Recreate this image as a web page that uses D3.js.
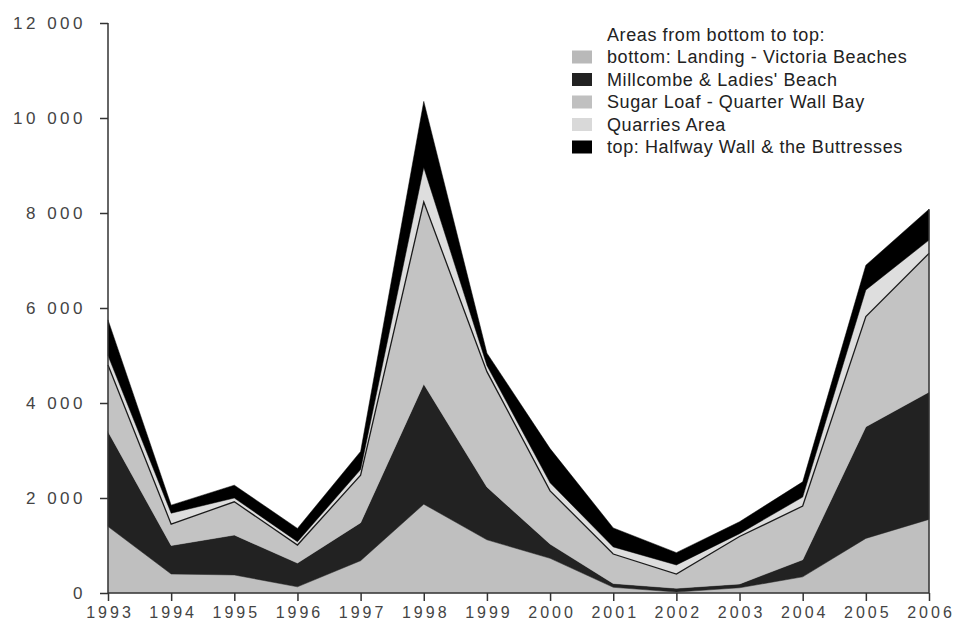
<!DOCTYPE html>
<html>
<head>
<meta charset="utf-8">
<script src="https://cdn.jsdelivr.net/npm/d3@7"></script>
<style>
  html, body { margin: 0; padding: 0; background: #fff; }
  svg { display: block; }
</style>
</head>
<body>
<svg id="chart" width="956" height="624"></svg>
<script>
const years = [1993, 1994, 1995, 1996, 1997, 1998, 1999, 2000, 2001, 2002, 2003, 2004, 2005, 2006];
const landing   = [1400, 400, 380, 130, 680, 1870, 1120, 730, 120, 20, 110, 340, 1150, 1550];
const millcombe = [2000, 600, 840, 500, 800, 2530, 1110, 300, 80, 80, 80, 360, 2350, 2680];
const sugarLoaf = [1400, 450, 700, 380, 1000, 3830, 2430, 1120, 620, 300, 1000, 1130, 2320, 2920];
const quarries  = [200, 230, 80, 70, 120, 730, 130, 170, 150, 190, 60, 190, 560, 280];
const halfway   = [750, 170, 270, 280, 380, 1390, 260, 720, 400, 260, 250, 320, 520, 650];
const yTicks = [0, 2000, 4000, 6000, 8000, 10000, 12000];
const legendTitle = "Areas from bottom to top:";
const seriesNames = ["bottom: Landing - Victoria Beaches", "Millcombe & Ladies' Beach", "Sugar Loaf - Quarter Wall Bay", "Quarries Area", "top: Halfway Wall & the Buttresses"];
const keys = ["landing", "millcombe", "sugarLoaf", "quarries", "halfway"];
const fills = ["#bfbfbf", "#222222", "#c3c3c3", "#dedede", "#000000"];
const swatchFills = ["#b9b9b9", "#222222", "#c0c0c0", "#d9d9d9", "#000000"];

const table = years.map((y, i) => ({
  year: y, landing: landing[i], millcombe: millcombe[i], sugarLoaf: sugarLoaf[i],
  quarries: quarries[i], halfway: halfway[i]
}));

const svg = d3.select("#chart");
const x = d3.scaleLinear().domain([1993, 2006]).range([108, 929]);
const y = d3.scaleLinear().domain([0, 12000]).range([593, 23]);

const stack = d3.stack().keys(keys);
const layers = stack(table);

const area = d3.area()
  .x(d => x(d.data.year))
  .y0(d => y(d[0]))
  .y1(d => y(d[1]));

svg.append("g").selectAll("path").data(layers).join("path")
  .attr("d", area)
  .attr("fill", (d, i) => fills[i])
  .attr("stroke", (d, i) => fills[i])
  .attr("stroke-width", 0.5);

// dark outline on top of Sugar Loaf layer
const topLine = d3.line().x(d => x(d.data.year)).y(d => y(d[1]));
svg.append("path")
  .attr("d", topLine(layers[2]))
  .attr("fill", "none")
  .attr("stroke", "#1a1a1a")
  .attr("stroke-width", 1.3);

// right edge line
const last = layers[4][layers[4].length - 1];
svg.append("line")
  .attr("x1", x(2006)).attr("x2", x(2006))
  .attr("y1", y(0)).attr("y2", y(last[1]))
  .attr("stroke", "#333").attr("stroke-width", 1.5);

// axes
const fmt = v => v >= 1000 ? d3.format(",")(v).replace(/,/g, " ") : String(v);
const yAxis = d3.axisLeft(y).tickValues(yTicks).tickSize(8).tickPadding(14).tickFormat(fmt);
const gy = svg.append("g").attr("transform", `translate(${x(1993)},0)`).call(yAxis);
gy.select(".domain").attr("stroke", "#333").attr("stroke-width", 1.5).attr("d", `M0,${y(12000)}H0V${y(0)}`);
gy.selectAll(".tick line").attr("stroke", "#333").attr("stroke-width", 1.5);
gy.selectAll(".tick text")
  .attr("fill", "#444").style("font-family", "Liberation Sans, Arial, sans-serif")
  .style("font-size", "17px").style("letter-spacing", "3.5px");

const xAxis = d3.axisBottom(x).tickValues(years).tickSize(8).tickPadding(6).tickFormat(d3.format("d"));
const gx = svg.append("g").attr("transform", `translate(0,${y(0)})`).call(xAxis);
gx.select(".domain").attr("stroke", "#333").attr("stroke-width", 1.5).attr("d", `M${x(1993)},0H${x(2006)}`);
gx.selectAll(".tick line").attr("stroke", "#333").attr("stroke-width", 1.5);
gx.selectAll(".tick text")
  .attr("fill", "#444").style("font-family", "Liberation Sans, Arial, sans-serif")
  .style("font-size", "16px").style("letter-spacing", "3px")
  .attr("dx", "1.5px");

// legend
const lg = svg.append("g").attr("transform", "translate(572,0)");
lg.append("text").attr("x", 35).attr("y", 35).attr("dy", "0.35em")
  .text(legendTitle)
  .style("font-family", "Liberation Sans, Arial, sans-serif").style("font-size", "18px")
  .style("letter-spacing", "0.6px").attr("fill", "#222");
seriesNames.forEach((name, i) => {
  const cy = 57 + i * 22.5;
  lg.append("rect").attr("x", 0).attr("y", cy - 6.5).attr("width", 20).attr("height", 13).attr("fill", swatchFills[i]);
  lg.append("text").attr("x", 35).attr("y", cy).attr("dy", "0.35em")
    .text(name)
    .style("font-family", "Liberation Sans, Arial, sans-serif").style("font-size", "18px")
    .style("letter-spacing", "0.6px").attr("fill", "#222");
});
</script>
</body>
</html>
